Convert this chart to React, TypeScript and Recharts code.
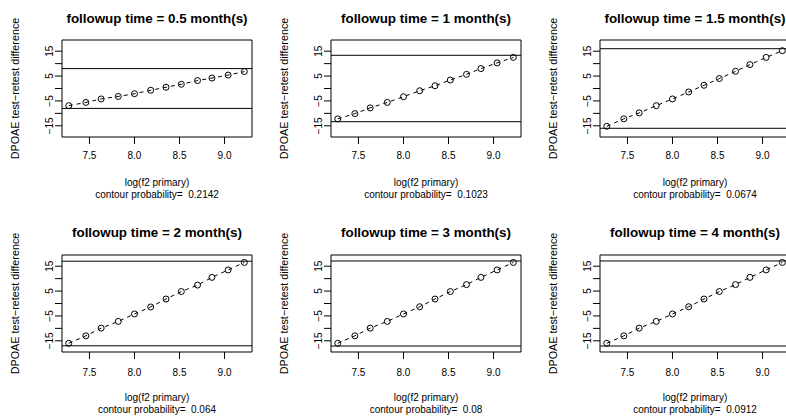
import React from 'react';
import {
  LineChart,
  Line,
  XAxis,
  YAxis,
  ReferenceLine,
  ReferenceArea,
  Customized,
} from 'recharts';

// ---------- data ----------
const logF2 = [7.27, 7.46, 7.63, 7.82, 8.0, 8.18, 8.35, 8.52, 8.7, 8.86, 9.04, 9.22];

const followupMonths = ['0.5', '1', '1.5', '2', '3', '4'];
const contourProbabilities = ['0.2142', '0.1023', '0.0674', '0.064', '0.08', '0.0912'];

const diff05 = [-6.9, -5.6, -4.2, -3.2, -2.1, -0.7, 0.5, 1.7, 3.2, 4.2, 5.4, 6.8];
const diff1 = [-12.2, -10.1, -7.8, -5.6, -3.3, -0.9, 1.1, 3.4, 5.7, 8.0, 10.3, 12.5];
const diff15 = [-15.2, -12.2, -9.8, -6.9, -4.2, -1.4, 1.3, 4.0, 6.9, 9.6, 12.5, 15.2];
const diff2 = [-16.0, -13.0, -9.9, -7.2, -4.2, -1.4, 1.8, 4.8, 7.4, 10.5, 13.5, 16.5];
const diff3 = [-16.0, -13.0, -9.9, -7.2, -4.2, -1.3, 1.8, 4.8, 7.6, 10.5, 13.5, 16.5];
const diff4 = [-16.0, -13.0, -9.9, -7.2, -4.2, -1.3, 1.8, 4.8, 7.6, 10.5, 13.5, 16.5];
const panelDiffs = [diff05, diff1, diff15, diff2, diff3, diff4];

const contourBounds = [8.0, 13.35, 16.0, 17.0, 17.1, 17.1];

const xDomain: [number, number] = [7.195, 9.305];
const yDomain: [number, number] = [-19.5, 19.5];
const xTicks = [7.5, 8.0, 8.5, 9.0];
const yTicks = [-15, -10, -5, 0, 5, 10, 15];
const yTickLabels: Record<string, string> = { '-15': '\u221215', '-5': '\u22125', '5': '5', '15': '15' };

const titleText = 'followup time = ';
const yLabelText = 'DPOAE test\u2212retest difference';
const xLabelText = 'log(f2 primary)';

// ---------- layout ----------
const FONT = '"Liberation Sans", Arial, Helvetica, sans-serif';
const CELL_W = 269;
const CELL_H = 215;
const PLOT_LEFT = 62;
const PLOT_TOP = 40;
const PLOT_RIGHT = 252;
const PLOT_BOTTOM = 137;
const ROW_TITLE_OFFSET = [17, 18.5];
const ROW_TICK_OFFSET = [15, 16.5];

const makeXTick = (row: number) => (props: any) => {
  const { x, y, payload } = props;
  return (
    <text x={x} y={y + ROW_TICK_OFFSET[row]} textAnchor="middle" fontSize={10} fontFamily={FONT} fill="#000">
      {Number(payload.value).toFixed(1)}
    </text>
  );
};

const YTick = (props: any) => {
  const { x, y, payload } = props;
  const label = yTickLabels[String(payload.value)];
  if (!label) return <g />;
  const bx = x - 1.5;
  return (
    <text
      x={bx}
      y={y}
      textAnchor="middle"
      fontSize={10}
      fontFamily={FONT}
      fill="#000"
      transform={`rotate(-90 ${bx} ${y})`}
    >
      {label}
    </text>
  );
};

const Panel = ({ idx }: { idx: number }) => {
  const row = Math.floor(idx / 3);
  const data = logF2.map((x, i) => ({ x, y: panelDiffs[idx][i] }));
  const bound = contourBounds[idx];
  const cx = (PLOT_LEFT + PLOT_RIGHT) / 2;
  const cy = (PLOT_TOP + PLOT_BOTTOM) / 2;
  const XTick = makeXTick(row);
  const texts = () => (
    <g fontFamily={FONT} fill="#000">
      <text x={cx} y={PLOT_TOP - ROW_TITLE_OFFSET[row]} textAnchor="middle" fontSize={13.4} fontWeight="bold">
        {titleText + followupMonths[idx] + ' month(s)'}
      </text>
      <text x={cx} y={PLOT_BOTTOM + 49} textAnchor="middle" fontSize={10}>
        {xLabelText}
      </text>
      <text x={cx} y={PLOT_BOTTOM + 60.5} textAnchor="middle" fontSize={10} style={{ whiteSpace: 'pre' }}>
        {'contour probability=  ' + contourProbabilities[idx]}
      </text>
      <text
        x={PLOT_LEFT - 42.7}
        y={cy}
        textAnchor="middle"
        fontSize={10.8}
        transform={`rotate(-90 ${PLOT_LEFT - 42.7} ${cy})`}
      >
        {yLabelText}
      </text>
    </g>
  );
  return (
    <LineChart
      width={CELL_W}
      height={CELL_H}
      data={data}
      margin={{ top: PLOT_TOP, right: CELL_W - PLOT_RIGHT, bottom: 0, left: 0 }}
    >
      <XAxis
        type="number"
        dataKey="x"
        domain={xDomain}
        ticks={xTicks}
        allowDataOverflow
        height={CELL_H - PLOT_BOTTOM}
        tickSize={7}
        tickMargin={0}
        axisLine={false}
        tickLine={{ stroke: '#000', strokeWidth: 1 }}
        tick={<XTick />}
        interval={0}
      />
      <YAxis
        type="number"
        dataKey="y"
        domain={yDomain}
        ticks={yTicks}
        allowDataOverflow
        width={PLOT_LEFT}
        tickSize={7}
        tickMargin={0}
        axisLine={false}
        tickLine={{ stroke: '#000', strokeWidth: 1 }}
        tick={<YTick />}
        interval={0}
      />
      <ReferenceArea
        x1={xDomain[0]}
        x2={xDomain[1]}
        y1={yDomain[0]}
        y2={yDomain[1]}
        fill="none"
        fillOpacity={0}
        stroke="#000"
        strokeWidth={1}
        ifOverflow="visible"
      />
      <ReferenceLine y={bound} stroke="#000" strokeWidth={1} />
      <ReferenceLine y={-bound} stroke="#000" strokeWidth={1} />
      <Line
        type="linear"
        dataKey="y"
        stroke="#000"
        strokeWidth={1}
        strokeDasharray="4 4"
        dot={{ r: 3, stroke: '#000', strokeWidth: 1, fill: 'none', strokeDasharray: 'none' }}
        activeDot={false}
        isAnimationActive={false}
      />
      <Customized component={texts} />
    </LineChart>
  );
};

export default function App() {
  return (
    <div
      style={{
        position: 'fixed',
        left: 0,
        top: 0,
        width: 786,
        height: 419,
        background: '#fff',
        overflow: 'hidden',
      }}
    >
      {followupMonths.map((_, idx) => {
        const col = idx % 3;
        const row = Math.floor(idx / 3);
        return (
          <div
            key={idx}
            style={{ position: 'absolute', left: col * CELL_W, top: row * CELL_H, width: CELL_W, height: CELL_H }}
          >
            <Panel idx={idx} />
          </div>
        );
      })}
    </div>
  );
}
